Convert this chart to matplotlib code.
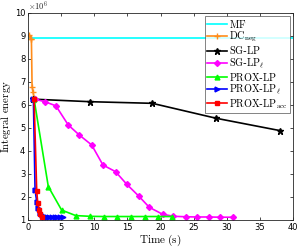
import matplotlib
matplotlib.use("Agg")
import matplotlib.pyplot as plt

plt.rcParams["mathtext.fontset"] = "cm"
plt.rcParams["font.family"] = "DejaVu Sans"

# times (s) and integral energy (x1e6)
mf_t = [0.0, 40.0]
mf_e = [8.9, 8.9]

dc_t = [0.2, 0.4, 0.5, 0.6, 0.75, 0.9, 1.0]
dc_e = [9.05, 8.88, 8.85, 6.8, 6.55, 6.3, 6.2]

sg_t = [0.8, 9.4, 18.75, 28.4, 38.1]
sg_e = [6.25, 6.14, 6.07, 5.42, 4.88]

sgl_t = [1.0, 2.55, 4.2, 6.06, 7.7, 9.6, 11.3, 13.2, 14.9, 16.7, 18.3,
         20.3, 21.95, 23.8, 25.5, 27.3, 29.0, 30.9]
sgl_e = [6.25, 6.14, 5.96, 5.13, 4.7, 4.26, 3.39, 3.1, 2.55, 2.04, 1.55,
         1.25, 1.16, 1.14, 1.13, 1.13, 1.12, 1.12]

prox_t = [0.9, 3.05, 5.06, 7.2, 9.3, 11.4, 13.4, 15.5, 17.6, 19.6, 21.75]
prox_e = [6.25, 2.45, 1.43, 1.19, 1.16, 1.15, 1.15, 1.15, 1.15, 1.15, 1.15]

proxl_t = [0.8, 1.05, 1.3, 1.55, 1.8, 2.1, 2.4, 2.8, 3.2, 3.6, 4.0, 4.4, 4.8, 5.2]
proxl_e = [6.25, 2.3, 1.8, 1.53, 1.3, 1.2, 1.15, 1.13, 1.12, 1.12, 1.12, 1.12, 1.12, 1.12]

acc_t = [0.9, 1.3, 1.45, 1.7, 1.85, 2.06]
acc_e = [6.25, 2.27, 1.75, 1.43, 1.28, 1.15]

fig = plt.figure(figsize=(2.99, 2.48), dpi=100)
ax = fig.add_axes([0.094, 0.113, 0.886, 0.835])

ax.plot(mf_t, mf_e, color="#00ffff", lw=1.2, label=r"$\mathrm{MF}$")
ax.plot(dc_t, dc_e, color="#ff8c1a", lw=1.2, marker="+", ms=4, label=r"$\mathrm{DC_{neg}}$")
ax.plot(sg_t, sg_e, color="black", lw=1.2, marker="*", ms=4.5, label=r"$\mathrm{SG}$-$\mathrm{LP}$")
ax.plot(sgl_t, sgl_e, color="#ff00ff", lw=1.2, marker="D", ms=3, label=r"$\mathrm{SG}$-$\mathrm{LP}_\ell$")
ax.plot(prox_t, prox_e, color="#00ff00", lw=1.2, marker="^", ms=3.5, label=r"$\mathrm{PROX}$-$\mathrm{LP}$")
ax.plot(proxl_t, proxl_e, color="#0000ff", lw=1.2, marker=">", ms=3.5, label=r"$\mathrm{PROX}$-$\mathrm{LP}_\ell$")
ax.plot(acc_t, acc_e, color="#ff0000", lw=1.2, marker="s", ms=3, label=r"$\mathrm{PROX}$-$\mathrm{LP_{acc}}$")

ax.set_xlim(0, 40)
ax.set_ylim(1, 10)
ax.set_xticks(range(0, 41, 5))
ax.set_yticks(range(1, 11))
ax.tick_params(labelsize=6, direction="in", length=2.5, width=0.5, top=True, right=True, pad=2)
for s in ax.spines.values():
    s.set_linewidth(0.6)
    s.set_color("#262626")

ax.text(0.0, 1.005, r"$\times 10^6$", transform=ax.transAxes, fontsize=6, va="bottom", ha="left", color="#262626")
ax.set_xlabel(r"$\mathrm{Time\ (s)}$", fontsize=8, labelpad=1)
ax.set_ylabel(r"$\mathrm{Integral\ energy}$", fontsize=7.8)
ax.yaxis.set_label_coords(-0.058, 0.5)

leg = ax.legend(loc="upper right", fontsize=7.3, frameon=True, fancybox=False, borderpad=0.2,
                labelspacing=0.0, handlelength=2.0, handletextpad=0.2, borderaxespad=0.3)
leg.get_frame().set_edgecolor("#262626")
leg.get_frame().set_linewidth(0.5)

fig.savefig("out.png", dpi=100)
